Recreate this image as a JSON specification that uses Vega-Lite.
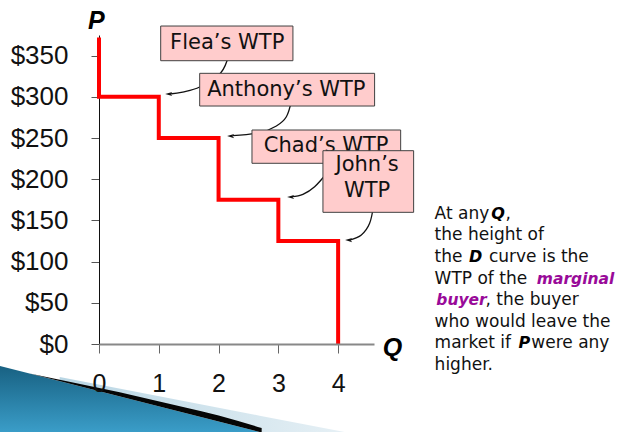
{
  "$schema": "https://vega.github.io/schema/vega-lite/v6.json",
  "width": 275,
  "height": 309,
  "autosize": {"type": "none"},
  "padding": {"left": 99, "top": 35, "right": 246, "bottom": 88},
  "background": "white",
  "config": {"view": {"stroke": null}},
  "datasets": {
    "demand": [
      {"x": 0, "y": 372, "i": 0}, {"x": 0, "y": 300, "i": 1}, {"x": 1, "y": 300, "i": 2},
      {"x": 1, "y": 250, "i": 3}, {"x": 2, "y": 250, "i": 4}, {"x": 2, "y": 175, "i": 5},
      {"x": 3, "y": 175, "i": 6}, {"x": 3, "y": 125, "i": 7}, {"x": 4, "y": 125, "i": 8},
      {"x": 4, "y": 0, "i": 9}
    ],
    "band": [
      {"x": -0.657, "y": -40.0, "y2": -45.1},
      {"x": 2.687, "y": -87.0, "y2": -106.8},
      {"x": 4.108, "y": -106.8, "y2": -106.8}
    ],
    "teal": [
      {"x": -1.8, "y": -24.1, "y2": -106.8},
      {"x": 2.687, "y": -106.8, "y2": -106.8}
    ],
    "edge": [
      {"x": -1.159, "y": -35.9, "y2": -35.9},
      {"x": 0.848, "y": -66.9, "y2": -72.9},
      {"x": 2.002, "y": -86.9, "y2": -94.2},
      {"x": 2.721, "y": -101.9, "y2": -107.4}
    ],
    "arrows": [
      {"id": "F", "x": 2.169, "y": 350.7}, {"id": "F", "x": 2.035, "y": 328.9}, {"id": "F", "x": 1.684, "y": 311.9}, {"id": "F", "x": 1.400, "y": 305.8}, {"id": "F", "x": 1.183, "y": 303.4},
      {"id": "A", "x": 3.222, "y": 296.0}, {"id": "A", "x": 3.134, "y": 275.8}, {"id": "A", "x": 2.967, "y": 264.6}, {"id": "A", "x": 2.687, "y": 256.4}, {"id": "A", "x": 2.236, "y": 252.8},
      {"id": "C", "x": 3.858, "y": 211.2}, {"id": "C", "x": 3.607, "y": 190.9}, {"id": "C", "x": 3.411, "y": 181.7}, {"id": "C", "x": 3.222, "y": 178.8},
      {"id": "J", "x": 4.594, "y": 168.7}, {"id": "J", "x": 4.527, "y": 146.5}, {"id": "J", "x": 4.388, "y": 132.3}, {"id": "J", "x": 4.192, "y": 126.2}
    ],
    "heads": [
      {"x": 1.166, "y": 303.4}, {"x": 2.202, "y": 252.4}, {"x": 3.206, "y": 178.4}, {"x": 4.176, "y": 126.2}
    ],
    "boxes": [
      {"name": "Flea", "x": 1.032, "x2": 3.244, "y": 385.9, "y2": 343.8},
      {"name": "Anthony", "x": 1.684, "x2": 4.610, "y": 328.5, "y2": 288.8},
      {"name": "Chad", "x": 2.559, "x2": 5.046, "y": 259.7, "y2": 219.3}
    ],
    "boxlabels": [
      {"label": "Flea’s WTP", "x": 2.144, "y": 364.9},
      {"label": "Anthony’s WTP", "x": 3.134, "y": 308.6},
      {"label": "Chad’s WTP", "x": 3.80, "y": 240.3}
    ],
    "johnbox": [
      {"name": "John", "x": 3.746, "x2": 5.263, "y": 234.6, "y2": 159.8}
    ],
    "johnlabels": [
      {"label": "John’s", "x": 4.485, "y": 217.6},
      {"label": "WTP", "x": 4.485, "y": 185.9}
    ],
    "axislabels": [
      {"label": "P", "x": -0.045, "y": 392},
      {"label": "Q", "x": 4.911, "y": -4.25}
    ],
    "para_normal": [
      {"t": "At any", "x": 5.614, "y": 158.0},
      {"t": ",", "x": 6.80, "y": 158.0},
      {"t": "the height of", "x": 5.614, "y": 131.8},
      {"t": "the", "x": 5.614, "y": 105.6},
      {"t": "curve is the", "x": 6.522, "y": 105.6},
      {"t": "WTP of the", "x": 5.614, "y": 79.4},
      {"t": ", the buyer", "x": 6.466, "y": 53.2},
      {"t": "who would leave the", "x": 5.614, "y": 26.9},
      {"t": "market if", "x": 5.614, "y": 0.7},
      {"t": "were any", "x": 7.231, "y": 0.7},
      {"t": "higher.", "x": 5.614, "y": -25.5}
    ],
    "para_bold": [
      {"t": "Q", "x": 6.562, "y": 158.0},
      {"t": "D", "x": 6.187, "y": 105.6},
      {"t": "P", "x": 7.018, "y": 0.7}
    ],
    "para_purple": [
      {"t": "marginal", "x": 7.324, "y": 79.4},
      {"t": "buyer", "x": 5.642, "y": 53.2}
    ]
  },
  "encoding": {
    "x": {
      "field": "x", "type": "quantitative",
      "scale": {"domain": [0, 4.6], "nice": false, "zero": false},
      "axis": {
        "values": [0, 1, 2, 3, 4], "title": null, "grid": false,
        "tickSize": 9, "tickColor": "#666", "tickWidth": 1,
        "domainColor": "#888", "domainWidth": 2,
        "labelFont": "Liberation Sans", "labelFontSize": 25, "labelColor": "#111",
        "labelPadding": 18, "labelFlush": false, "labelOverlap": false, "zindex": 1
      }
    },
    "y": {
      "field": "y", "type": "quantitative",
      "scale": {"domain": [0, 375], "nice": false, "zero": false},
      "axis": {
        "values": [0, 50, 100, 150, 200, 250, 300, 350], "labelExpr": "'$' + datum.value",
        "title": null, "grid": false,
        "tickSize": 8, "tickColor": "#555", "tickWidth": 1,
        "domainColor": "#111", "domainWidth": 1,
        "labelFont": "Liberation Sans", "labelFontSize": 26, "labelColor": "#111",
        "labelPadding": 23, "labelFlush": false, "labelOverlap": false, "zindex": 0
      }
    }
  },
  "layer": [
    {
      "data": {"name": "band"},
      "mark": {"type": "area", "color": {"gradient": "linear", "x1": 0, "y1": 0, "x2": 1, "y2": 0, "stops": [{"offset": 0, "color": "#b9d6e4"}, {"offset": 1, "color": "#e6f0f5"}]}},
      "encoding": {"y2": {"field": "y2"}}
    },
    {
      "data": {"name": "teal"},
      "mark": {"type": "area", "color": {"gradient": "linear", "x1": 0, "y1": 0, "x2": 0, "y2": 1, "stops": [{"offset": 0, "color": "#175f80"}, {"offset": 1, "color": "#3a9dc8"}]}},
      "encoding": {"y2": {"field": "y2"}}
    },
    {
      "data": {"name": "edge"},
      "mark": {"type": "area", "color": "#050505", "interpolate": "monotone"},
      "encoding": {"y2": {"field": "y2"}}
    },
    {
      "data": {"name": "demand"},
      "mark": {"type": "line", "color": "#ff0000", "strokeWidth": 4, "strokeJoin": "miter", "strokeCap": "butt"},
      "encoding": {"order": {"field": "i", "type": "quantitative"}}
    },
    {
      "data": {"name": "arrows"},
      "mark": {"type": "line", "color": "#111", "strokeWidth": 1.3, "interpolate": "cardinal"},
      "encoding": {"detail": {"field": "id", "type": "nominal"}}
    },
    {
      "data": {"name": "heads"},
      "mark": {"type": "point", "shape": "M-1,0 L1,-0.6 L0.5,0 L1,0.6 Z", "size": 50, "filled": true, "color": "#111", "opacity": 1}
    },
    {
      "data": {"name": "boxes"},
      "mark": {"type": "rect", "fill": "#ffcccc", "stroke": "#404040", "strokeWidth": 1},
      "encoding": {"x2": {"field": "x2"}, "y2": {"field": "y2"}}
    },
    {
      "data": {"name": "boxlabels"},
      "mark": {"type": "text", "font": "DejaVu Sans", "fontSize": 21, "color": "#111", "align": "center", "baseline": "middle"},
      "encoding": {"text": {"field": "label"}}
    },
    {
      "data": {"name": "johnbox"},
      "mark": {"type": "rect", "fill": "#ffcccc", "stroke": "#404040", "strokeWidth": 1},
      "encoding": {"x2": {"field": "x2"}, "y2": {"field": "y2"}}
    },
    {
      "data": {"name": "johnlabels"},
      "mark": {"type": "text", "font": "DejaVu Sans", "fontSize": 21, "color": "#111", "align": "center", "baseline": "middle"},
      "encoding": {"text": {"field": "label"}}
    },
    {
      "data": {"name": "axislabels"},
      "mark": {"type": "text", "font": "Liberation Sans", "fontSize": 25, "fontWeight": "bold", "fontStyle": "italic", "color": "#000", "align": "center", "baseline": "middle"},
      "encoding": {"text": {"field": "label"}}
    },
    {
      "data": {"name": "para_normal"},
      "mark": {"type": "text", "font": "DejaVu Sans", "fontSize": 17, "color": "#111", "align": "left", "baseline": "middle"},
      "encoding": {"text": {"field": "t"}}
    },
    {
      "data": {"name": "para_bold"},
      "mark": {"type": "text", "font": "DejaVu Sans", "fontSize": 16, "fontWeight": "bold", "fontStyle": "italic", "color": "#000", "align": "left", "baseline": "middle"},
      "encoding": {"text": {"field": "t"}}
    },
    {
      "data": {"name": "para_purple"},
      "mark": {"type": "text", "font": "DejaVu Sans", "fontSize": 15.5, "fontWeight": "bold", "fontStyle": "italic", "color": "#990a99", "align": "left", "baseline": "middle"},
      "encoding": {"text": {"field": "t"}}
    }
  ]
}
